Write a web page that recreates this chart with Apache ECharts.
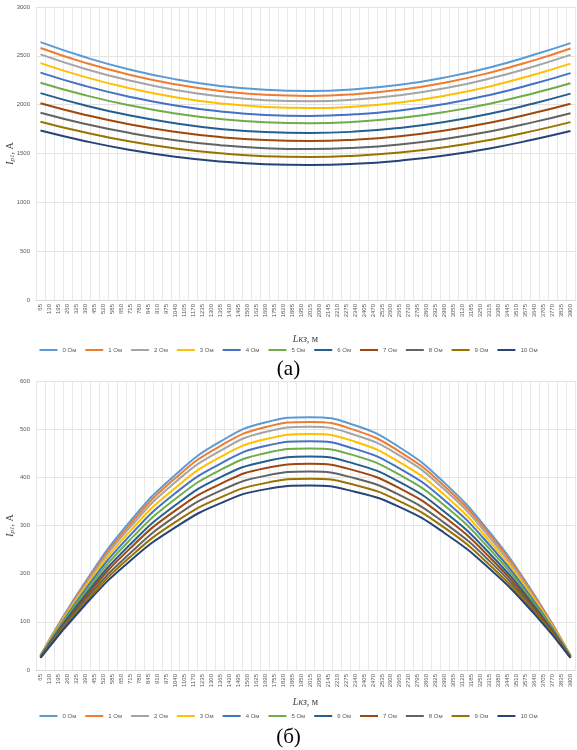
<!DOCTYPE html>
<html>
<head>
<meta charset="utf-8">
<script src="https://cdn.jsdelivr.net/npm/echarts@6/dist/echarts.min.js"></script>
<style>
  html, body { margin: 0; background: #fff; }
  #chart { width: 577px; height: 750px; }
</style>
</head>
<body>
<div id="chart"></div>
<script>
// расстояние до КЗ, м (подписи оси X)
const lengths = [65, 130, 195, 260, 325, 390, 455, 520, 585, 650, 715, 780, 845, 910, 975,
  1040, 1105, 1170, 1235, 1300, 1365, 1430, 1495, 1560, 1625, 1690, 1755, 1820, 1885, 1950,
  2015, 2080, 2145, 2210, 2275, 2340, 2405, 2470, 2535, 2600, 2665, 2730, 2795, 2860, 2925,
  2990, 3055, 3120, 3185, 3250, 3315, 3380, 3445, 3510, 3575, 3640, 3705, 3770, 3835, 3900];

const names = ['0 Ом', '1 Ом', '2 Ом', '3 Ом', '4 Ом', '5 Ом', '6 Ом', '7 Ом', '8 Ом', '9 Ом', '10 Ом'];
const colors = ['#5B9BD5', '#ED7D31', '#A5A5A5', '#FFC000', '#4472C4', '#70AD47',
  '#255E91', '#9E480E', '#636363', '#997300', '#264478'];

// точки, в которых сняты значения с графиков
const readAt = [65, 390, 715, 1040, 1365, 1690, 2015, 2340, 2665, 2990, 3315, 3640, 3900];

// (а) ток, А
const currentA = [
  [2640, 2485, 2358, 2261, 2192, 2152, 2140, 2158, 2203, 2278, 2381, 2513, 2630],
  [2580, 2428, 2304, 2209, 2141, 2101, 2090, 2107, 2152, 2225, 2327, 2456, 2575],
  [2515, 2366, 2245, 2151, 2085, 2046, 2035, 2052, 2096, 2167, 2267, 2394, 2510],
  [2425, 2282, 2166, 2076, 2013, 1976, 1965, 1981, 2023, 2092, 2187, 2309, 2420],
  [2328, 2191, 2079, 1992, 1931, 1895, 1885, 1901, 1941, 2007, 2099, 2216, 2323],
  [2225, 2096, 1991, 1910, 1853, 1820, 1810, 1825, 1863, 1925, 2010, 2120, 2220],
  [2118, 1992, 1888, 1809, 1752, 1719, 1710, 1724, 1762, 1823, 1907, 2015, 2113],
  [2015, 1895, 1797, 1722, 1668, 1637, 1628, 1642, 1677, 1735, 1815, 1917, 2010],
  [1918, 1803, 1709, 1636, 1585, 1555, 1546, 1559, 1593, 1649, 1726, 1824, 1913],
  [1826, 1714, 1622, 1552, 1502, 1472, 1464, 1477, 1510, 1564, 1639, 1734, 1821],
  [1735, 1626, 1536, 1467, 1419, 1390, 1382, 1394, 1427, 1479, 1552, 1646, 1730]
];

// (б) ток, А
const currentB = [
  [30, 183, 309, 405, 474, 514, 525, 508, 462, 388, 286, 155, 30],
  [30, 180, 303, 398, 465, 504, 515, 498, 453, 381, 281, 153, 30],
  [29, 177, 297, 390, 455, 494, 505, 488, 445, 374, 275, 149, 29],
  [29, 172, 289, 378, 442, 479, 490, 474, 431, 363, 267, 146, 29],
  [28, 167, 280, 367, 428, 465, 475, 459, 418, 352, 259, 141, 28],
  [28, 162, 271, 355, 415, 450, 460, 445, 405, 341, 251, 137, 28],
  [27, 156, 261, 342, 400, 433, 443, 428, 390, 328, 242, 132, 27],
  [27, 151, 253, 331, 386, 419, 428, 414, 377, 317, 234, 128, 27],
  [26, 146, 243, 319, 372, 403, 412, 398, 363, 305, 226, 124, 26],
  [26, 141, 235, 307, 358, 388, 397, 384, 350, 295, 218, 120, 26],
  [25, 136, 227, 296, 346, 375, 383, 370, 338, 284, 210, 116, 25]
];

const labelColor = '#595959';
const serif = 'Liberation Serif';

function xAxisFor(idx) {
  return {
    type: 'category',
    gridIndex: idx,
    data: lengths.map(String),
    boundaryGap: true,
    axisLine: { lineStyle: { color: '#d9d9d9' } },
    axisTick: { show: false },
    axisLabel: { rotate: 90, interval: 0, fontSize: 6, color: labelColor, margin: 4, fontFamily: 'Liberation Sans' },
    splitLine: { show: true, interval: 0, lineStyle: { color: '#e8e8e8', width: 1 } },
    name: '{i|Lкз}{n|, м}',
    nameLocation: 'middle',
    nameGap: idx === 0 ? 34 : 27,
    nameTextStyle: {
      rich: {
        i: { fontFamily: serif, fontStyle: 'italic', fontSize: 10, color: '#404040' },
        n: { fontFamily: serif, fontSize: 10, color: '#404040' }
      }
    }
  };
}

function yAxisFor(idx, max, step) {
  return {
    type: 'value',
    gridIndex: idx,
    min: 0, max: max, interval: step,
    axisLine: { show: false },
    axisTick: { show: false },
    axisLabel: { fontSize: 6, color: labelColor, margin: 6, fontFamily: 'Liberation Sans', formatter: v => String(v) },
    splitLine: { lineStyle: { color: '#e3e3e3' } },
    name: '{i|I}{s|р1}{n|, А}',
    nameLocation: 'middle',
    nameGap: 20,
    nameMoveOverlap: false,
    nameTextStyle: {
      rich: {
        i: { fontFamily: serif, fontStyle: 'italic', fontSize: 10, color: '#404040' },
        s: { fontFamily: serif, fontStyle: 'italic', fontSize: 7, color: '#404040', verticalAlign: 'bottom', padding: [4, 0, 0, 0] },
        n: { fontFamily: serif, fontSize: 10, color: '#404040' }
      }
    }
  };
}

function makeSeries(rows, idx) {
  return rows.map((row, k) => ({
    name: names[k],
    type: 'line',
    xAxisIndex: idx,
    yAxisIndex: idx,
    smooth: true,
    symbol: 'none',
    lineStyle: { width: 2, color: colors[k] },
    itemStyle: { color: colors[k] },
    data: row.map((v, j) => [String(readAt[j]), v])
  }));
}

const legendBase = {
  data: names.map(n => ({ name: n, icon: 'rect' })),
  left: 'center',
  itemWidth: 18,
  itemHeight: 2,
  itemGap: 9,
  textStyle: { fontSize: 6, color: labelColor, fontFamily: 'Liberation Sans' }
};

const chart = echarts.init(document.getElementById('chart'));
chart.setOption({
  backgroundColor: '#fff',
  animation: false,
  title: [
    { text: '(а)', left: 'center', top: 354, textStyle: { fontFamily: serif, fontSize: 21, fontWeight: 'normal', color: '#000' } },
    { text: '(б)', left: 'center', top: 722, textStyle: { fontFamily: serif, fontSize: 21, fontWeight: 'normal', color: '#000' } }
  ],
  legend: [
    Object.assign({ top: 342 }, legendBase),
    Object.assign({ top: 708 }, legendBase)
  ],
  grid: [
    { left: 36, right: 2, top: 7, height: 293, outerBoundsMode: 'none' },
    { left: 36, right: 2, top: 381, height: 289, outerBoundsMode: 'none' }
  ],
  xAxis: [xAxisFor(0), xAxisFor(1)],
  yAxis: [yAxisFor(0, 3000, 500), yAxisFor(1, 600, 100)],
  series: makeSeries(currentA, 0).concat(makeSeries(currentB, 1))
});
</script>
</body>
</html>
